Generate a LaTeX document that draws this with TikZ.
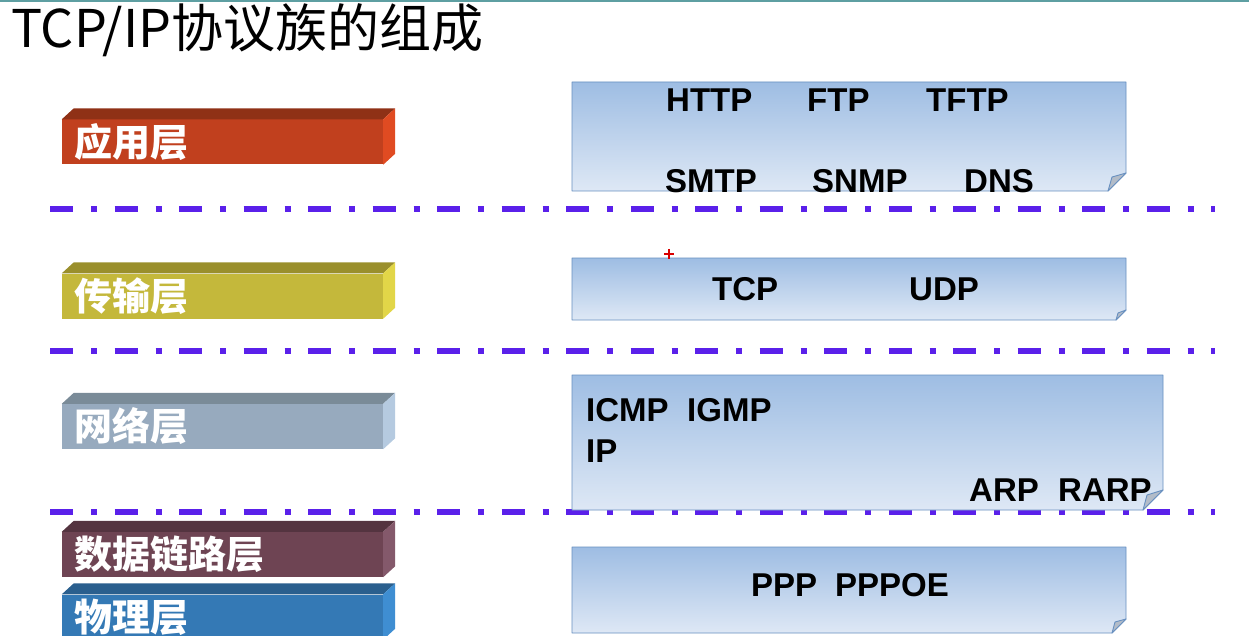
\documentclass[tikz,border=0pt]{standalone}
\usepackage{fontspec}
\setmainfont{Liberation Sans}
\newfontfamily\cjkfont{Noto Sans CJK SC}
\usetikzlibrary{positioning}

\definecolor{apptop}{HTML}{8F3116}
\definecolor{appfront}{HTML}{C1401E}
\definecolor{appside}{HTML}{E04B22}
\definecolor{trntop}{HTML}{9A8F2C}
\definecolor{trnfront}{HTML}{C4B83B}
\definecolor{trnside}{HTML}{E2D648}
\definecolor{nettop}{HTML}{7A8B98}
\definecolor{netfront}{HTML}{97AABE}
\definecolor{netside}{HTML}{B5CAE0}
\definecolor{lnktop}{HTML}{543440}
\definecolor{lnkfront}{HTML}{6E4453}
\definecolor{lnkside}{HTML}{84596B}
\definecolor{phytop}{HTML}{2A5F8E}
\definecolor{phyfront}{HTML}{3479B5}
\definecolor{physide}{HTML}{3F8ED2}
\definecolor{boxtop}{HTML}{9EBDE3}
\definecolor{boxbot}{HTML}{DEE8F5}
\definecolor{boxline}{HTML}{6890C0}
\definecolor{foldgray}{HTML}{B3BCC8}
\definecolor{sepblue}{HTML}{5A20EA}
\definecolor{rulecyan}{HTML}{5E9FA2}

\begin{document}
\begin{tikzpicture}[x=1pt,y=-1pt]
\tikzset{
  layerbar/.style={rectangle,text=white,inner xsep=12pt,inner ysep=0pt,text width=297pt,
    minimum height=45pt,align=left,font=\cjkfont\bfseries\fontsize{38}{40}\selectfont},
  protobox/.style={top color=boxtop,bottom color=boxbot,draw=boxline,line width=0.9pt,line join=round},
  foldtip/.style={fill=foldgray,draw=boxline,line width=0.9pt,line join=round},
  proto/.style={anchor=base west,inner sep=0pt,font=\bfseries\fontsize{33}{36}\selectfont},
  sepline/.style={draw=sepblue,line width=6pt,dash pattern=on 23pt off 18pt on 6pt off 17.5pt}
}
\useasboundingbox (0,0) rectangle (1249,636);
\fill[white] (0,0) rectangle (1249,636);
\draw[rulecyan,line width=2pt] (0,1) -- (1249,1);

% title
\node[anchor=base west,inner sep=0pt,font=\cjkfont\fontsize{52}{56}\selectfont] (title) at (11,48) {TCP/IP协议族的组成};

% separators
\draw[sepline] (50,209) -- (1215,209);
\draw[sepline] (50,351) -- (1215,351);
\draw[sepline] (50,512) -- (1215,512);

% layer bars
\node[layerbar,fill=appfront] (n_app) at (222.5,142) {应用层};
\fill[apptop] (n_app.north west) -- ++(12,-11) -- ([shift={(12,-11)}]n_app.north east) -- (n_app.north east) -- cycle;
\fill[appside] (n_app.north east) -- ++(12,-11) -- ([shift={(12,-11)}]n_app.south east) -- (n_app.south east) -- cycle;

\node[layerbar,fill=trnfront] (n_trn) at (222.5,296) {传输层};
\fill[trntop] (n_trn.north west) -- ++(12,-11) -- ([shift={(12,-11)}]n_trn.north east) -- (n_trn.north east) -- cycle;
\fill[trnside] (n_trn.north east) -- ++(12,-11) -- ([shift={(12,-11)}]n_trn.south east) -- (n_trn.south east) -- cycle;

\node[layerbar,fill=netfront] (n_net) at (222.5,426.5) {网络层};
\fill[nettop] (n_net.north west) -- ++(12,-11) -- ([shift={(12,-11)}]n_net.north east) -- (n_net.north east) -- cycle;
\fill[netside] (n_net.north east) -- ++(12,-11) -- ([shift={(12,-11)}]n_net.south east) -- (n_net.south east) -- cycle;

\node[layerbar,fill=lnkfront] (n_lnk) at (222.5,554.5) {数据链路层};
\fill[lnktop] (n_lnk.north west) -- ++(12,-11) -- ([shift={(12,-11)}]n_lnk.north east) -- (n_lnk.north east) -- cycle;
\fill[lnkside] (n_lnk.north east) -- ++(12,-11) -- ([shift={(12,-11)}]n_lnk.south east) -- (n_lnk.south east) -- cycle;

\node[layerbar,fill=phyfront] (n_phy) at (222.5,617) {物理层};
\fill[phytop] (n_phy.north west) -- ++(12,-11) -- ([shift={(12,-11)}]n_phy.north east) -- (n_phy.north east) -- cycle;
\fill[physide] (n_phy.north east) -- ++(12,-11) -- ([shift={(12,-11)}]n_phy.south east) -- (n_phy.south east) -- cycle;

% protocol boxes
\shade[protobox] (572,82) -- (1126,82) -- (1126,173) -- (1108,191) -- (572,191) -- cycle;
\path[foldtip] (1126,173) -- (1108,191) -- (1112,177) -- cycle;
\shade[protobox] (572,258) -- (1126,258) -- (1126,310) -- (1116,320) -- (572,320) -- cycle;
\path[foldtip] (1126,310) -- (1116,320) -- (1118,313) -- cycle;
\shade[protobox] (572,375) -- (1163,375) -- (1163,490) -- (1143,510) -- (572,510) -- cycle;
\path[foldtip] (1163,490) -- (1143,510) -- (1147,495) -- cycle;
\shade[protobox] (572,547) -- (1126,547) -- (1126,619) -- (1112,633) -- (572,633) -- cycle;
\path[foldtip] (1126,619) -- (1112,633) -- (1115,622) -- cycle;

% protocol names
\node[proto] (p_http) at (666,112) {HTTP};
\node[proto] (p_ftp) at (807,112) {FTP};
\node[proto] (p_tftp) at (926,112) {TFTP};
\node[proto] (p_smtp) at (665,193) {SMTP};
\node[proto] (p_snmp) at (812,193) {SNMP};
\node[proto] (p_dns) at (964,193) {DNS};
\node[proto] (p_tcp) at (712,300) {TCP};
\node[proto] (p_udp) at (909,300) {UDP};
\node[proto] (p_icmp) at (586,421) {ICMP};
\node[proto] (p_igmp) at (687,421) {IGMP};
\node[proto] (p_ip) at (586,462) {IP};
\node[proto] (p_arp) at (969,501) {ARP};
\node[proto] (p_rarp) at (1058,501) {RARP};
\node[proto] (p_ppp) at (751,596) {PPP};
\node[proto] (p_pppoe) at (835,596) {PPPOE};

% cursor mark
\draw[red!85!black,line width=1.5pt] (664,254) -- (674,254) (669,249) -- (669,259);
\end{tikzpicture}
\end{document}
